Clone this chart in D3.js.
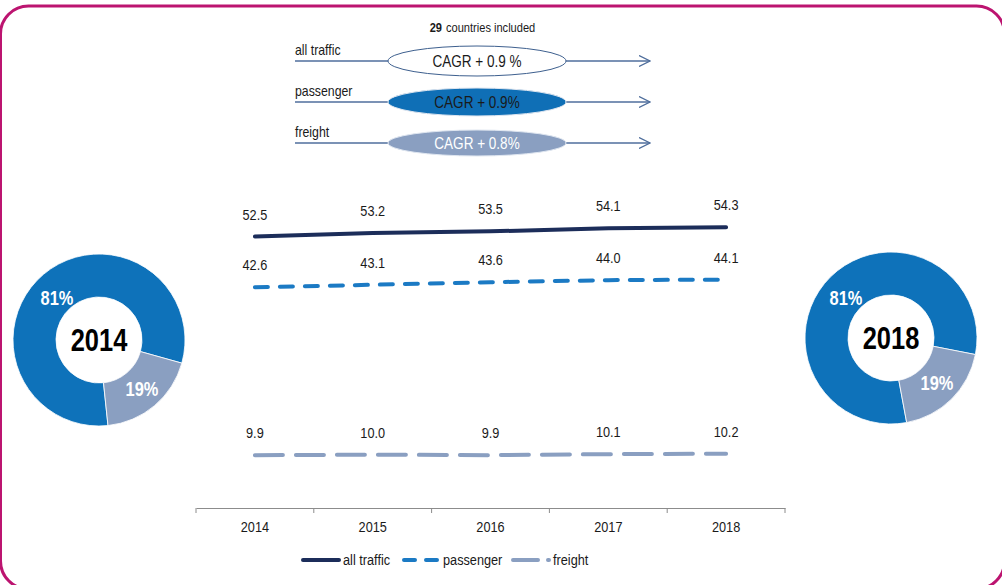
<!DOCTYPE html>
<html>
<head>
<meta charset="utf-8">
<script src="https://cdn.jsdelivr.net/npm/d3@7"></script>
<style>
  body { margin: 0; background: #fff; }
  svg text { font-family: "Liberation Sans Narrow", "Arial Narrow", "Liberation Sans", Arial, sans-serif; }
</style>
</head>
<body>
<svg id="chart"></svg>
<script>
/* chart values */
var years = ["2014", "2015", "2016", "2017", "2018"];
var allTraffic = [52.5, 53.2, 53.5, 54.1, 54.3];
var passenger = [42.6, 43.1, 43.6, 44.0, 44.1];
var freight = [9.9, 10.0, 9.9, 10.1, 10.2];

var shareYears = ["2014", "2018"];
var passengerShare = [81, 81];
var freightShare = [19, 19];

var countriesIncluded = 29;
var cagrSeries = ["all traffic", "passenger", "freight"];
var cagrLabels = ["CAGR + 0.9 %", "CAGR + 0.9%", "CAGR + 0.8%"];

/* sizes and colours */
var width = 1002, height = 585;
var navy = "#1c2d5a", blue = "#1b7ac4", grey = "#8a9fc1";
var donutBlue = "#0e72ba", donutGrey = "#8a9fc1";

var svg = d3.select("#chart").attr("width", width).attr("height", height);

/* frame */
svg.append("rect")
    .attr("x", 0.5).attr("y", 6)
    .attr("width", 1004).attr("height", 583)
    .attr("rx", 28).attr("ry", 28)
    .attr("fill", "none")
    .attr("stroke", "#bc1470")
    .attr("stroke-width", 3);

/* scales */
var x = d3.scaleBand().domain(years).range([196, 785]);
var y = d3.scaleLinear().domain([0, 60]).range([506, 198]);
var cx = function(d, i){ return x(years[i]) + x.bandwidth() / 2; };

/* x axis */
var axis = svg.append("g")
    .attr("transform", "translate(0,508)")
    .call(d3.axisBottom(x).tickSize(0).tickPadding(13));
axis.select(".domain").attr("stroke", "#8c8c8c");
axis.selectAll("text")
    .attr("font-size", 15.5)
    .attr("fill", "#1a1a1a");
var bounds = years.map(function(d){ return x(d); }).concat([x.range()[1]]);
axis.selectAll(".sep")
    .data(bounds)
    .enter()
    .append("line")
    .attr("class", "sep")
    .attr("x1", function(d){ return d; })
    .attr("x2", function(d){ return d; })
    .attr("y1", 0).attr("y2", 5)
    .attr("stroke", "#8c8c8c");

/* lines */
var series = [
    { values: allTraffic, color: navy, dash: null },
    { values: passenger, color: blue, dash: "13,12" },
    { values: freight, color: grey, dash: "28,13" }
];
var line = d3.line()
    .x(cx)
    .y(function(d){ return y(d); });

series.forEach(function(s){
    svg.append("path")
        .datum(s.values)
        .attr("d", line)
        .attr("fill", "none")
        .attr("stroke", s.color)
        .attr("stroke-width", 4)
        .attr("stroke-linecap", "round")
        .attr("stroke-dasharray", s.dash);

    svg.selectAll(null)
        .data(s.values)
        .enter()
        .append("text")
        .attr("x", cx)
        .attr("y", function(d){ return y(d) - 17; })
        .attr("text-anchor", "middle")
        .attr("font-size", 15.5)
        .attr("fill", "#1a1a1a")
        .text(function(d){ return d.toFixed(1); });
});

/* legend */
var legend = svg.append("g").attr("transform", "translate(0,560)");
var legendItems = [
    { name: "all traffic", color: navy, x1: 303, x2: 339, dash: null, tx: 343 },
    { name: "passenger", color: blue, x1: 404, x2: 437, dash: "11,11", tx: 443 },
    { name: "freight", color: grey, x1: 513, x2: 550, dash: "25,10,1,20", tx: 553 }
];
legendItems.forEach(function(d){
    legend.append("line")
        .attr("x1", d.x1).attr("x2", d.x2)
        .attr("stroke", d.color)
        .attr("stroke-width", 4)
        .attr("stroke-linecap", "round")
        .attr("stroke-dasharray", d.dash);
    legend.append("text")
        .attr("x", d.tx).attr("y", 5)
        .attr("font-size", 15.5)
        .attr("fill", "#1a1a1a")
        .text(d.name);
});

/* top: CAGR arrows */
svg.append("text")
    .attr("x", 442).attr("y", 32)
    .attr("text-anchor", "end")
    .attr("font-size", 13.5)
    .attr("font-weight", "bold")
    .attr("fill", "#1a1a1a")
    .text(countriesIncluded);
svg.append("text")
    .attr("x", 446).attr("y", 32)
    .attr("font-size", 13.5)
    .attr("fill", "#1a1a1a")
    .text("countries included");

svg.append("defs").append("marker")
    .attr("id", "arrow")
    .attr("viewBox", "0 -6 12 12")
    .attr("refX", 11).attr("refY", 0)
    .attr("markerWidth", 12).attr("markerHeight", 12)
    .attr("markerUnits", "userSpaceOnUse")
    .attr("orient", "auto")
    .append("path")
    .attr("d", "M0,-5.5L11,0L0,5.5")
    .attr("fill", "none")
    .attr("stroke", "#4f6e9c")
    .attr("stroke-width", 1.3);

var rowY = d3.scalePoint().domain(cagrSeries).range([61, 143]);
var ellipseFill = ["#ffffff", "#0f6fb6", "#8a9fc1"];
var ellipseText = ["#1a1a1a", "#1a1a1a", "#ffffff"];
var ellipseRy = [15, 14, 13];

cagrSeries.forEach(function(name, i){
    var yy = rowY(name);
    svg.append("line")
        .attr("x1", 295).attr("x2", 388)
        .attr("y1", yy).attr("y2", yy)
        .attr("stroke", "#4f6e9c").attr("stroke-width", 1.3);
    svg.append("line")
        .attr("x1", 566).attr("x2", 650)
        .attr("y1", yy).attr("y2", yy)
        .attr("stroke", "#4f6e9c").attr("stroke-width", 1.3)
        .attr("marker-end", "url(#arrow)");
    svg.append("ellipse")
        .attr("cx", 477).attr("cy", yy)
        .attr("rx", 89).attr("ry", ellipseRy[i])
        .attr("fill", ellipseFill[i])
        .attr("stroke", i === 0 ? "#3d5f8e" : "#dfe6f0")
        .attr("stroke-width", 1);
    svg.append("text")
        .attr("x", 477).attr("y", yy + 5.5)
        .attr("text-anchor", "middle")
        .attr("font-size", 16.5)
        .attr("fill", ellipseText[i])
        .text(cagrLabels[i]);
    svg.append("text")
        .attr("x", 295).attr("y", yy - 6)
        .attr("font-size", 15)
        .attr("fill", "#1a1a1a")
        .text(name);
});

/* donuts */
var donutPos = [{ x: 99, y: 340, rot: 174 }, { x: 891, y: 338, rot: 169.5 }];
var arc = d3.arc().innerRadius(43).outerRadius(86);
var labelArcs = [
    [[-42, -42], [43, 49]],
    [[-45, -40], [46, 45]]
];

shareYears.forEach(function(yr, k){
    var p = donutPos[k];
    var g = svg.append("g").attr("transform", "translate(" + p.x + "," + p.y + ")");
    var pie = d3.pie().sort(null)
        .startAngle(p.rot * Math.PI / 180)
        .endAngle((p.rot + 360) * Math.PI / 180);
    var slices = pie([passengerShare[k], freightShare[k]]);
    g.selectAll("path")
        .data(slices)
        .enter()
        .append("path")
        .attr("d", arc)
        .attr("fill", function(d, i){ return i === 0 ? donutBlue : donutGrey; })
        .attr("stroke", "#fff")
        .attr("stroke-width", 0.8);
    g.selectAll(".pct")
        .data(slices)
        .enter()
        .append("text")
        .attr("class", "pct")
        .attr("x", function(d, i){ return labelArcs[k][i][0]; })
        .attr("y", function(d, i){ return labelArcs[k][i][1] + 7; })
        .attr("text-anchor", "middle")
        .attr("font-size", 20)
        .attr("font-weight", "bold")
        .attr("fill", "#fff")
        .text(function(d){ return d.data + "%"; });
    g.append("text")
        .attr("y", 11)
        .attr("text-anchor", "middle")
        .attr("font-size", 31)
        .attr("font-weight", "bold")
        .attr("fill", "#000")
        .text(yr);
});

/* no narrow font installed: squeeze every label to an Arial Narrow width */
svg.selectAll("text").each(function(){
    var len = this.getComputedTextLength();
    d3.select(this)
        .attr("textLength", len * 0.82)
        .attr("lengthAdjust", "spacingAndGlyphs");
});
</script>
</body>
</html>
